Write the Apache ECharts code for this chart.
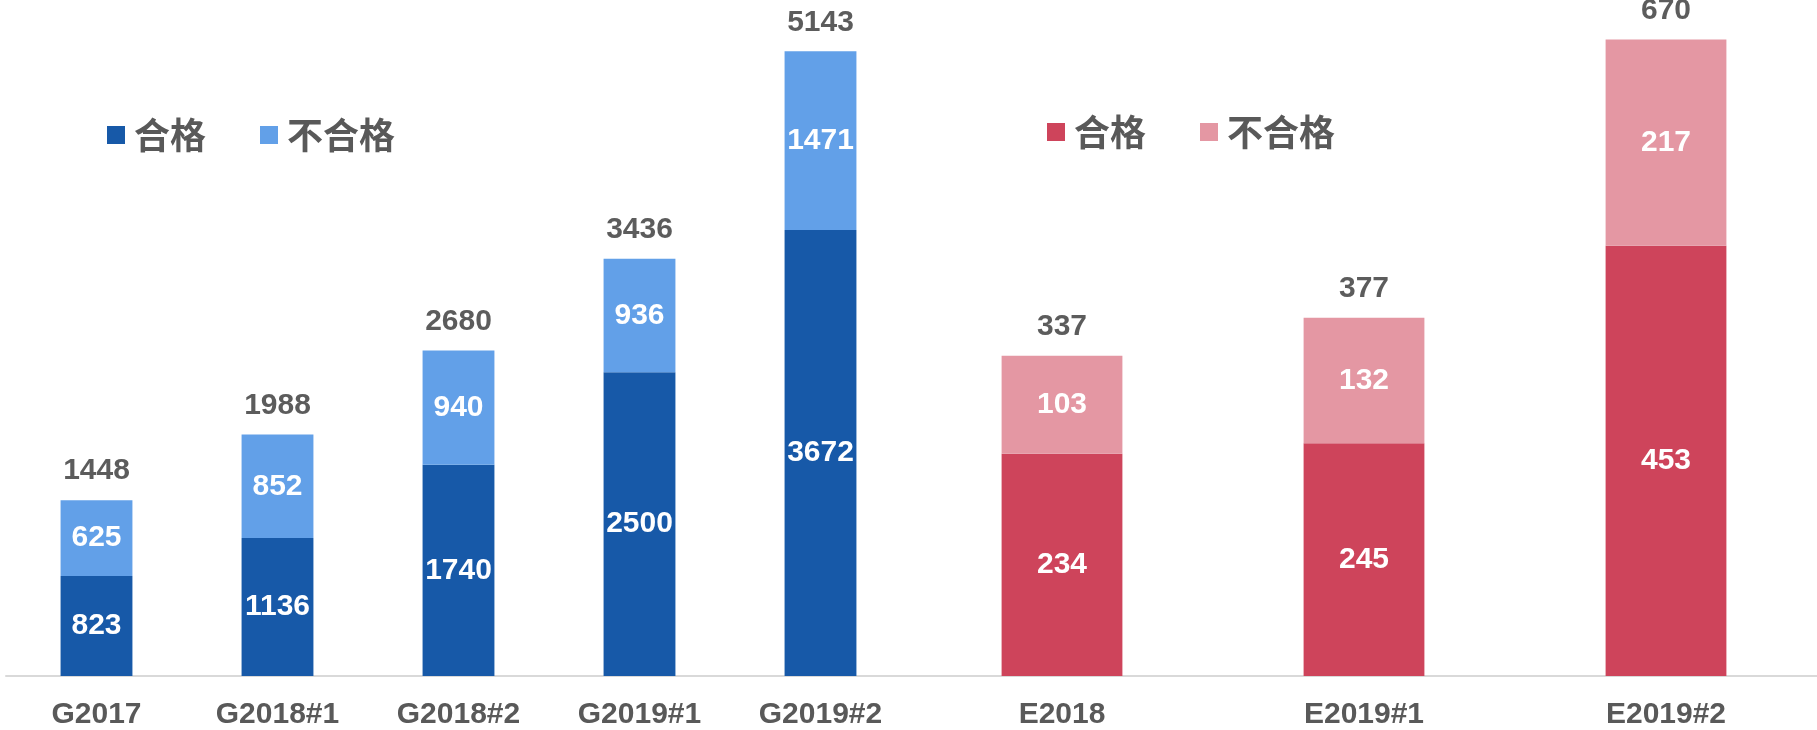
<!DOCTYPE html>
<html>
<head>
<meta charset="utf-8">
<script src="https://cdn.jsdelivr.net/npm/echarts@6/dist/echarts.min.js"></script>
<style>
html,body{margin:0;padding:0;background:#fff;}
#c{width:1817px;height:730px;}
</style>
</head>
<body>
<div id="c"></div>
<script>
const gCategories = ['G2017', 'G2018#1', 'G2018#2', 'G2019#1', 'G2019#2'];
const gPass = [823, 1136, 1740, 2500, 3672];
const gFail = [625, 852, 940, 936, 1471];
const eCategories = ['E2018', 'E2019#1', 'E2019#2'];
const ePass = [234, 245, 453];
const eFail = [103, 132, 217];
const seriesNames = ['合格', '不合格'];

const gTotal = gPass.map((v, i) => v + gFail[i]);
const eTotal = ePass.map((v, i) => v + eFail[i]);

const FONT = '"Liberation Sans", Arial, "Noto Sans CJK SC", sans-serif';
const C = { gDark: '#1759A8', gLight: '#62A0E8', eDark: '#CE445B', eLight: '#E497A3' };

const innerLabel = {
  show: true, position: 'inside', color: '#fff', fontSize: 30, fontWeight: 'bold', fontFamily: FONT
};
const topLabel = (totals) => ({
  show: true, position: 'top', distance: 14, color: '#333333', fontSize: 30, fontWeight: 'bold', fontFamily: FONT,
  formatter: p => String(totals[p.dataIndex])
});

const legendCommon = {
  orient: 'horizontal', icon: 'rect', itemWidth: 18, itemHeight: 18, itemGap: 54,
  textStyle: { fontSize: 36, fontWeight: 'bold', color: '#595959', fontFamily: '"Noto Sans CJK SC", sans-serif', padding: [0, 0, 0, 4] },
  selectedMode: false
};

const chart = echarts.init(document.getElementById('c'), null, { renderer: 'canvas' });
chart.setOption({
  animation: false,
  backgroundColor: '#fff',
  legend: [
    Object.assign({}, legendCommon, { left: 102, top: 112,
      data: [{ name: seriesNames[0], itemStyle: { color: C.gDark } }, { name: seriesNames[1], itemStyle: { color: C.gLight } }] }),
    Object.assign({}, legendCommon, { left: 1042, top: 109,
      data: [{ name: seriesNames[0], itemStyle: { color: C.eDark } }, { name: seriesNames[1], itemStyle: { color: C.eLight } }] })
  ],
  grid: [
    { left: 6, width: 905, top: 8, bottom: 54 },
    { left: 911, right: 0, top: 11, bottom: 54 }
  ],
  xAxis: [0, 1].map(i => ({
    type: 'category', gridIndex: i, data: i === 0 ? gCategories : eCategories,
    axisLine: { lineStyle: { color: '#D9D9D9', width: 2 } },
    axisTick: { show: false },
    axisLabel: { margin: 24, color: '#595959', fontSize: 30, fontWeight: 'bold', fontFamily: FONT, interval: 0 }
  })),
  yAxis: [
    { type: 'value', gridIndex: 0, min: 0, max: 5500, show: false, splitLine: { show: false } },
    { type: 'value', gridIndex: 1, min: 0, max: 700, show: false, splitLine: { show: false } }
  ],
  series: [
    { name: seriesNames[0], type: 'bar', stack: 'g', xAxisIndex: 0, yAxisIndex: 0, barWidth: '39.7%',
      data: gPass, itemStyle: { color: C.gDark }, label: innerLabel },
    { name: seriesNames[1], type: 'bar', stack: 'g', xAxisIndex: 0, yAxisIndex: 0, barWidth: '39.7%',
      data: gFail, itemStyle: { color: C.gLight }, label: innerLabel },
    { name: 'g-total', type: 'scatter', xAxisIndex: 0, yAxisIndex: 0, symbolSize: 0, silent: true,
      data: gTotal, label: topLabel(gTotal) },
    { name: seriesNames[0], type: 'bar', stack: 'e', xAxisIndex: 1, yAxisIndex: 1, barWidth: '40%',
      data: ePass, itemStyle: { color: C.eDark }, label: innerLabel },
    { name: seriesNames[1], type: 'bar', stack: 'e', xAxisIndex: 1, yAxisIndex: 1, barWidth: '40%',
      data: eFail, itemStyle: { color: C.eLight }, label: innerLabel },
    { name: 'e-total', type: 'scatter', xAxisIndex: 1, yAxisIndex: 1, symbolSize: 0, silent: true,
      data: eTotal, label: topLabel(eTotal) }
  ]
});
</script>
</body>
</html>
